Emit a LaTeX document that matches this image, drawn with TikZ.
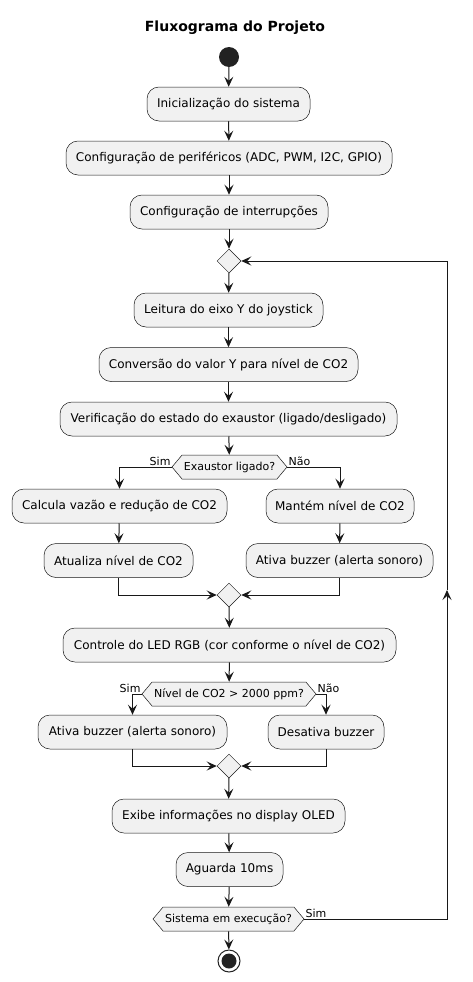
\documentclass[tikz,border=0pt]{standalone}
\usepackage{fontspec}
\setmainfont{DejaVu Sans}
\usetikzlibrary{arrows.meta,shapes.geometric,shapes.symbols}
\definecolor{fundo}{HTML}{F1F1F1}
\definecolor{linha}{HTML}{181818}
\definecolor{ponto}{HTML}{222222}
\begin{document}
\begin{tikzpicture}[x=1pt,y=-1pt,
	acao/.style={draw=linha, line width=0.5pt, fill=fundo, rounded corners=12pt, minimum height=34pt, inner sep=0pt, minimum width=#1, font=\fontsize{12}{14}\selectfont},
	decisao/.style={signal, signal to=east and west, signal pointer angle=100, draw=linha, line width=0.5pt, fill=fundo, minimum height=24pt, inner sep=1pt, minimum width=#1, font=\fontsize{11}{13}\selectfont},
	juncao/.style={diamond, draw=linha, line width=0.5pt, fill=fundo, minimum width=24pt, minimum height=24pt, inner sep=0pt},
	seta/.style={draw=linha, line width=1pt, -{Stealth[length=10pt,width=9pt,inset=4pt]}},
	rotulo/.style={font=\fontsize{11}{13}\selectfont, inner sep=1pt}]
	\useasboundingbox (0,0) rectangle (472,982);
	%titulo
	\node[font=\fontsize{14}{16}\selectfont\bfseries] (titulo) at (235,28) {Fluxograma do Projeto};
	%inicio
	\node[circle, fill=ponto, minimum size=20pt, inner sep=0pt] (inicio) at (229,57) {};
	%configuracao inicial
	\node[acao=163] (b1) at (228.5,104) {Inicialização do sistema};
	\node[acao=326] (b2) at (229,158) {Configuração de periféricos (ADC, PWM, I2C, GPIO)};
	\node[acao=198] (b3) at (229,212) {Configuração de interrupções};
	%laco principal
	\node[juncao] (m1) at (229,261) {};
	\node[acao=189] (b4) at (228.5,310) {Leitura do eixo Y do joystick};
	\node[acao=259] (b5) at (228.5,364.5) {Conversão do valor Y para nível de CO2};
	\node[acao=337] (b6) at (228.5,419) {Verificação do estado do exaustor (ligado/desligado)};
	%exaustor
	\node[decisao=115] (d1) at (229.5,467) {Exaustor ligado?};
	\node[acao=215] (b7) at (119.5,506) {Calcula vazão e redução de CO2};
	\node[acao=148] (b8) at (340,506) {Mantém nível de CO2};
	\node[acao=149] (b9) at (118.5,560.5) {Atualiza nível de CO2};
	\node[acao=187] (b10) at (339.5,560.5) {Ativa buzzer (alerta sonoro)};
	\node[juncao] (m2) at (229,595) {};
	%LED e alarme
	\node[acao=333] (b11) at (229.5,645) {Controle do LED RGB (cor conforme o nível de CO2)};
	\node[decisao=174] (d2) at (229,694) {Nível de CO2 > 2000 ppm?};
	\node[acao=189] (b12) at (132.5,732) {Ativa buzzer (alerta sonoro)};
	\node[acao=116] (b13) at (326,732) {Desativa buzzer};
	\node[juncao] (m3) at (229,766) {};
	%display e espera
	\node[acao=233] (b14) at (228.5,816) {Exibe informações no display OLED};
	\node[acao=107] (b15) at (229.5,869.5) {Aguarda 10ms};
	\node[decisao=151] (d3) at (228.5,919) {Sistema em execução?};
	%fim
	\node[circle, draw=ponto, line width=1pt, fill=white, minimum size=22pt, inner sep=0pt] (fim) at (229,961) {};
	\node[circle, fill=ponto, minimum size=15pt, inner sep=0pt] (fimb) at (fim) {};
	\coordinate (volta) at (447,919);
	\coordinate (meio) at (447,590);
	%setas
	\draw[seta] (inicio) -- (b1);
	\draw[seta] (b1) -- (b2);
	\draw[seta] (b2) -- (b3);
	\draw[seta] (b3) -- (m1);
	\draw[seta] (m1) -- (b4);
	\draw[seta] (b4) -- (b5);
	\draw[seta] (b5) -- (b6);
	\draw[seta] (b6) -- (d1);
	\draw[seta] (d1.west) -| (b7.north);
	\draw[seta] (d1.east) -| (b8.north);
	\node[rotulo, anchor=south east] at (d1.west) {Sim};
	\node[rotulo, anchor=south west] at (d1.east) {Não};
	\draw[seta] (b7) -- (b9);
	\draw[seta] (b8) -- (b10);
	\draw[seta] (b9.south) |- (m2.west);
	\draw[seta] (b10.south) |- (m2.east);
	\draw[seta] (m2) -- (b11);
	\draw[seta] (b11) -- (d2);
	\draw[seta] (d2.west) -| (b12.north);
	\draw[seta] (d2.east) -| (b13.north);
	\node[rotulo, anchor=south east] at (d2.west) {Sim};
	\node[rotulo, anchor=south west] at (d2.east) {Não};
	\draw[seta] (b12.south) |- (m3.west);
	\draw[seta] (b13.south) |- (m3.east);
	\draw[seta] (m3) -- (b14);
	\draw[seta] (b14) -- (b15);
	\draw[seta] (b15) -- (d3);
	\draw[seta] (d3) -- (fim);
	%retorno
	\draw[seta] (d3.east) -- (volta) -- (meio);
	\draw[seta] (meio) |- (m1.east);
	\node[rotulo, anchor=south west] at (d3.east) {Sim};
\end{tikzpicture}
\end{document}
